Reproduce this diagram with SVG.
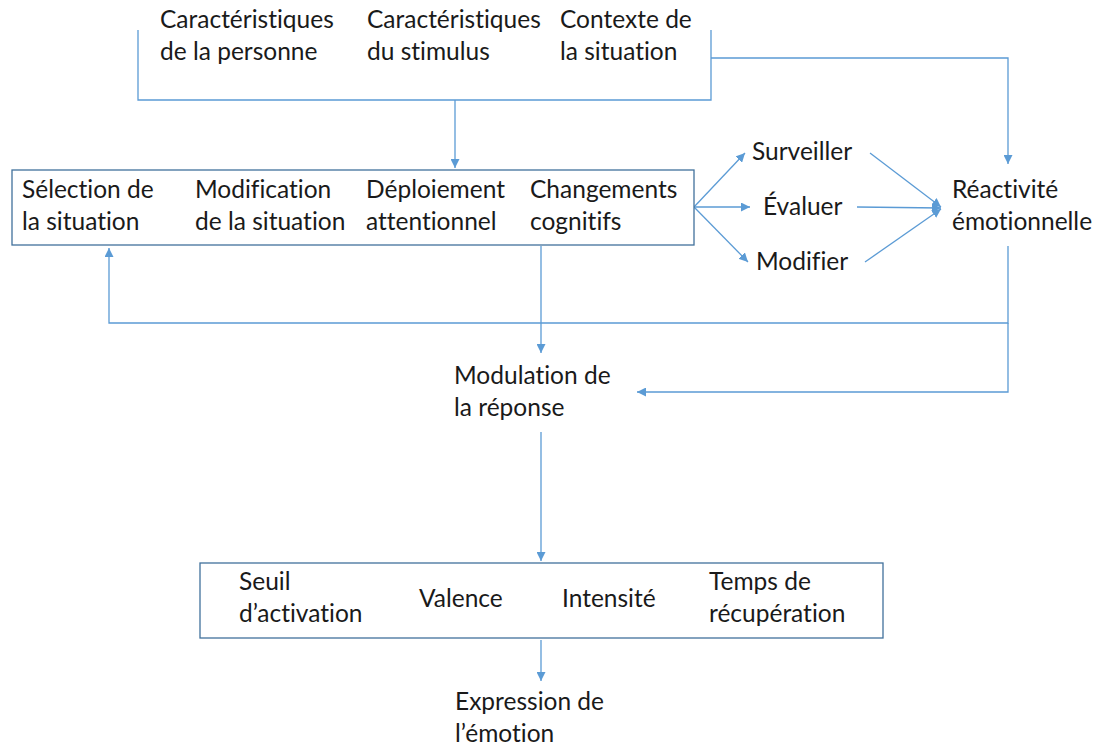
<svg xmlns="http://www.w3.org/2000/svg" width="1103" height="746" viewBox="0 0 1103 746">
<style>
text{font-family:Lato,"Open Sans","Liberation Sans",sans-serif;font-size:24.5px;fill:#1a1a1a;font-variant-ligatures:none}
.c{fill:none;stroke:#5B9BD5;stroke-width:1.3}
.box{fill:#fff;stroke:#41719C;stroke-width:1.3}
</style>
<defs>
<marker id="a" viewBox="0 0 10 10" refX="10" refY="5" markerWidth="9" markerHeight="9" markerUnits="userSpaceOnUse" orient="auto"><path d="M0,0L10,5L0,10z" fill="#5B9BD5"/></marker>
</defs>
<rect width="1103" height="746" fill="#fff"/>
<g id="connectors">
<path class="c" d="M138,30V100H711V30"/>
<path class="c" d="M455,100V168" marker-end="url(#a)"/>
<path class="c" d="M711,58H1008V164" marker-end="url(#a)"/>
<path class="c" d="M694,207L745,153" marker-end="url(#a)"/>
<path class="c" d="M694,207L750,207" marker-end="url(#a)"/>
<path class="c" d="M694,207L748,262" marker-end="url(#a)"/>
<path class="c" d="M870,153L941,207" marker-end="url(#a)"/>
<path class="c" d="M857,207L941,208" marker-end="url(#a)"/>
<path class="c" d="M865,262L941,209" marker-end="url(#a)"/>
<path class="c" d="M1008,246V323H109V248" marker-end="url(#a)"/>
<path class="c" d="M1008,323V392H637" marker-end="url(#a)"/>
<path class="c" d="M541,246V353" marker-end="url(#a)"/>
<path class="c" d="M541,432V561" marker-end="url(#a)"/>
<path class="c" d="M541,640V681" marker-end="url(#a)"/>
</g>
<g id="inputs">
<text x="160" y="28">Caractéristiques</text><text x="160" y="60">de la personne</text>
<text x="367" y="28">Caractéristiques</text><text x="367" y="60">du stimulus</text>
<text x="560" y="28">Contexte de</text><text x="560" y="60">la situation</text>
</g>
<g id="strategies">
<rect class="box" x="12" y="170" width="682" height="75"/>
<text x="22" y="198">Sélection de</text><text x="22" y="230">la situation</text>
<text x="195" y="198">Modification</text><text x="195" y="230">de la situation</text>
<text x="366" y="198">Déploiement</text><text x="366" y="230">attentionnel</text>
<text x="530" y="198">Changements</text><text x="530" y="230">cognitifs</text>
</g>
<g id="surveiller"><text x="752" y="160">Surveiller</text></g>
<g id="evaluer"><text x="763" y="215">Évaluer</text></g>
<g id="modifier"><text x="756" y="270">Modifier</text></g>
<g id="reactivite"><text x="952" y="198">Réactivité</text><text x="952" y="230">émotionnelle</text></g>
<g id="modulation"><text x="454" y="384">Modulation de</text><text x="454" y="416">la réponse</text></g>
<g id="parametres">
<rect class="box" x="200" y="563" width="683" height="75"/>
<text x="239" y="590">Seuil</text><text x="239" y="622">d’activation</text>
<text x="419" y="607">Valence</text>
<text x="562" y="607">Intensité</text>
<text x="709" y="590">Temps de</text><text x="709" y="622">récupération</text>
</g>
<g id="expression"><text x="455" y="710">Expression de</text><text x="455" y="742">l’émotion</text></g>
</svg>
